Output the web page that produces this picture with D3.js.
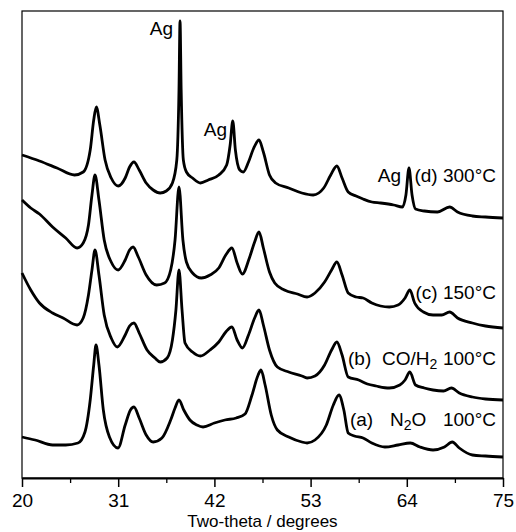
<!DOCTYPE html>
<html>
<head>
<meta charset="utf-8">
<script src="https://cdn.jsdelivr.net/npm/d3@7"></script>
<style>
  body { margin: 0; background: #fff; }
  svg text { font-family: "Liberation Sans", Arial, Helvetica, sans-serif; fill: #000; }
</style>
</head>
<body>
<svg id="chart" width="516" height="532"></svg>
<script>
// x ticks (two-theta, degrees)
const xTicks = [20, 31, 42, 53, 64, 75];
const xMinor = [25.5, 36.5, 47.5, 58.5, 69.5];

// traces, [two-theta, intensity (a.u., offset as plotted)]
const traceA = [[20.0, 41], [21.5, 38], [23.5, 33], [25.0, 33], [26.4, 35], [27.2, 46], [27.8, 78], [28.2, 113],
  [28.46, 133], [28.8, 113], [29.3, 68], [30.0, 41], [30.98, 30], [31.8, 53], [32.4, 68], [32.8, 71], [33.4, 60],
  [34.2, 43], [35.0, 36], [36.0, 40], [37.0, 58], [37.5, 70], [37.95, 78], [38.5, 68], [39.2, 58], [40.0, 53],
  [40.7, 51], [42.0, 55], [43.2, 58], [44.5, 60], [45.5, 64], [46.3, 83], [47.0, 103], [47.33, 108], [47.8, 93],
  [48.5, 63], [49.2, 48], [50.5, 41], [52.0, 36], [52.6, 35], [53.5, 38], [54.8, 53], [55.6, 73], [56.25, 83],
  [56.8, 68], [57.3, 45], [58.0, 42], [59.0, 40], [60.0, 35], [61.5, 31], [63.0, 33], [64.4, 35], [65.5, 31],
  [67.0, 28], [68.3, 31], [69.2, 36], [70.0, 30], [71.5, 23], [73.0, 22], [75.0, 21]];

const traceB = [[20.0, 205], [21.0, 188], [22.0, 175], [23.5, 165], [24.7, 160], [26.3, 153], [27.0, 160], [27.6, 183],
  [28.0, 208], [28.35, 228], [28.8, 203], [29.4, 163], [30.2, 140], [30.9, 131], [31.8, 143], [32.3, 152], [32.8, 155],
  [33.4, 145], [34.3, 128], [35.2, 120], [35.8, 116], [36.6, 120], [37.2, 138], [37.6, 168], [37.95, 208], [38.3, 168],
  [38.64, 135], [39.5, 126], [40.4, 122], [41.5, 128], [42.5, 136], [43.3, 146], [44.0, 151], [44.6, 138], [45.2, 130],
  [45.9, 143], [46.6, 160], [47.1, 168], [47.6, 153], [48.3, 128], [49.2, 111], [50.5, 106], [52.0, 102], [52.6, 100],
  [53.5, 102], [54.6, 113], [55.4, 128], [56.0, 136], [56.6, 123], [57.3, 101], [58.5, 98], [59.5, 94], [60.5, 92],
  [62.0, 90], [63.2, 93], [63.8, 98], [64.35, 106], [65.0, 93], [66.0, 90], [67.0, 88], [68.2, 87], [69.1, 90],
  [70.0, 85], [71.5, 81], [73.0, 79], [75.0, 78]];

const traceC = [[20.0, 278], [21.0, 270], [22.0, 264], [23.5, 251], [25.0, 240], [26.3, 230], [27.0, 235], [27.6, 253],
  [28.0, 283], [28.35, 303], [28.8, 278], [29.4, 238], [30.2, 216], [31.0, 208], [31.8, 218], [32.3, 228], [32.7, 231],
  [33.3, 221], [34.2, 203], [35.4, 193], [36.3, 195], [37.0, 208], [37.5, 238], [37.95, 291], [38.4, 238], [38.8, 216],
  [39.5, 205], [40.5, 200], [41.5, 203], [42.5, 210], [43.3, 223], [44.0, 230], [44.6, 215], [45.2, 204], [46.0, 220],
  [46.6, 236], [47.1, 246], [47.6, 230], [48.3, 206], [48.9, 195], [50.0, 188], [51.5, 184], [52.6, 181], [53.5, 185],
  [54.6, 196], [55.4, 208], [56.0, 216], [56.6, 203], [57.3, 185], [58.2, 181], [59.0, 180], [60.0, 175], [61.0, 172],
  [62.0, 171], [63.0, 173], [63.8, 180], [64.35, 188], [64.9, 175], [65.9, 166], [67.0, 163], [68.0, 163], [68.9, 166],
  [69.8, 160], [71.5, 155], [73.0, 152], [75.0, 150]];

const traceD = [[20.0, 323], [22.0, 317], [24.0, 310], [26.0, 303], [27.0, 306], [27.8, 328], [28.2, 358], [28.5, 371],
  [28.9, 353], [29.5, 318], [30.2, 300], [31.0, 292], [31.8, 300], [32.3, 311], [32.8, 316], [33.4, 308], [34.2, 295],
  [35.0, 288], [35.8, 285], [36.5, 287], [37.2, 295], [37.7, 318], [37.95, 388], [38.07, 457], [38.2, 388], [38.45, 318],
  [38.8, 306], [39.5, 300], [40.4, 295], [41.3, 298], [42.5, 303], [43.4, 313], [43.8, 333], [44.1, 357], [44.4, 328],
  [44.9, 308], [45.3, 306], [45.9, 316], [46.5, 330], [47.1, 338], [47.6, 326], [48.3, 303], [49.0, 295], [50.5, 290],
  [52.0, 285], [53.3, 283], [54.5, 290], [55.3, 303], [56.0, 312], [56.6, 300], [57.3, 286], [58.2, 282], [59.0, 279],
  [60.0, 276], [61.0, 275], [62.5, 273], [63.5, 271], [63.9, 283], [64.25, 310], [64.6, 283], [65.0, 269], [66.0, 267],
  [67.5, 266], [68.9, 271], [69.8, 266], [71.5, 262], [73.0, 261], [75.0, 260]];

const traces = [traceA, traceB, traceC, traceD];

const svg = d3.select('#chart');
const m = {top: 11, right: 13, bottom: 54, left: 22};
const W = 516, H = 532;

const x = d3.scaleLinear().domain([20, 75]).range([m.left, W - m.right]);
const y = d3.scaleLinear().domain([0, 467]).range([H - m.bottom, m.top]);

// frame
svg.append('rect')
    .attr('x', m.left).attr('y', m.top)
    .attr('width', W - m.left - m.right).attr('height', H - m.top - m.bottom)
    .attr('fill', 'none').attr('stroke', '#000').attr('stroke-width', 1.2);

// minor ticks
svg.append('g')
    .attr('transform', 'translate(0,' + (H - m.bottom) + ')')
    .call(d3.axisBottom(x).tickValues(xMinor).tickSize(5).tickSizeOuter(0).tickFormat(''))
    .call(g => g.select('.domain').remove())
    .selectAll('line').attr('stroke-width', 1.3);

// major ticks + labels
const xAxis = svg.append('g')
    .attr('transform', 'translate(0,' + (H - m.bottom) + ')')
    .call(d3.axisBottom(x).tickValues(xTicks).tickSize(9).tickSizeOuter(0).tickPadding(6.5));
xAxis.select('.domain').attr('stroke-width', 2);
xAxis.selectAll('line').attr('stroke-width', 1.5);
xAxis.selectAll('text').style('font-size', '19px').style('font-family', '"Liberation Sans", Arial, sans-serif');

svg.append('text')
    .attr('x', (m.left + W - m.right) / 2).attr('y', 527)
    .attr('text-anchor', 'middle')
    .style('font-size', '17px')
    .text('Two-theta / degrees');

// traces
const line = d3.line()
    .x(d => x(d[0]))
    .y(d => y(d[1]))
    .curve(d3.curveMonotoneX);

svg.selectAll('.trace')
    .data(traces)
    .enter()
    .append('path')
    .attr('class', 'trace')
    .attr('d', line)
    .attr('fill', 'none')
    .attr('stroke', '#000')
    .attr('stroke-width', 2.8)
    .attr('stroke-linejoin', 'round');

// annotations
const fs = '19px';
function label(tx, ty, anchor, txt) {
  return svg.append('text')
      .attr('x', x(tx)).attr('y', y(ty))
      .attr('text-anchor', anchor)
      .style('font-size', fs)
      .text(txt);
}
label(37.27, 443, 'end', 'Ag');
label(43.44, 342, 'end', 'Ag');
label(63.34, 296, 'end', 'Ag');

label(74.2, 296, 'end', '(d) 300°C');
label(74.2, 179, 'end', '(c) 150°C');

label(57.28, 113, 'start', '(b)');
const cb = label(61.17, 113, 'start', 'CO/H');
cb.append('tspan').attr('dy', 4).style('font-size', '14px').text('2');
label(74.2, 113, 'end', '100°C');

label(57.5, 52, 'start', '(a)');
const na = label(62.08, 52, 'start', 'N');
na.append('tspan').attr('dy', 4).style('font-size', '14px').text('2');
na.append('tspan').attr('dy', -4).text('O');
label(74.2, 52, 'end', '100°C');
</script>
</body>
</html>
